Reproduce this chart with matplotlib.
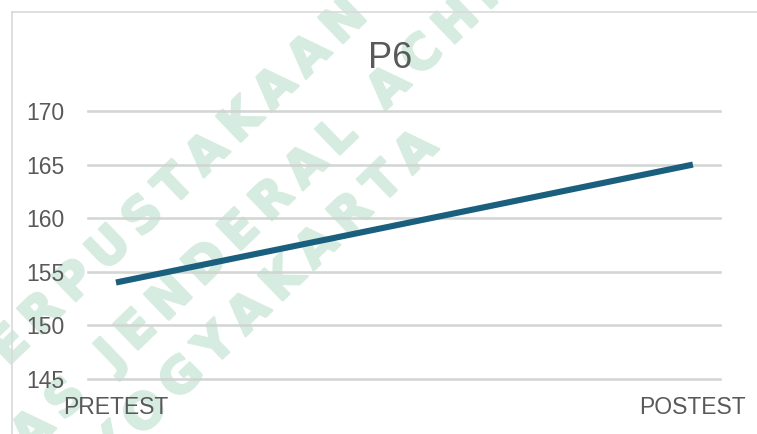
import math
import matplotlib
matplotlib.use("Agg")
import matplotlib.pyplot as plt
import matplotlib.font_manager as fm
import matplotlib.patheffects as pe
from matplotlib.lines import Line2D

# ---- data ----
categories = ["PRETEST", "POSTEST"]
values = [154, 165]
y_ticks = [145, 150, 155, 160, 165, 170]
title = "P6"
watermark_lines = ["PERPUSTAKAAN", "UNIVERSITAS JENDERAL ACHMAD YANI", "YOGYAKARTA"]

W, H = 757, 434
fig = plt.figure(figsize=(W / 100, H / 100), dpi=100)
fig.patch.set_facecolor("white")

names = {f.name for f in fm.fontManager.ttflist}
if "Liberation Sans Narrow" in names:
    FONT, TICK_FS, TITLE_FS = ["Liberation Sans Narrow", "DejaVu Sans"], 18, 27
else:
    FONT, TICK_FS, TITLE_FS = ["Liberation Sans", "DejaVu Sans"], 16.5, 26
TXT = "#595959"

# chart border (left + top visible)
fig.add_artist(Line2D([11.5 / W, 11.5 / W], [0, 1 - 12 / H], color="#d9d9d9", lw=1.2,
                      transform=fig.transFigure))
fig.add_artist(Line2D([11.5 / W, 1], [1 - 12 / H, 1 - 12 / H], color="#d9d9d9", lw=1.2,
                      transform=fig.transFigure))

left, right = 88 / W, 720 / W
bottom, top = 1 - 379 / H, 1 - 111 / H
ax = fig.add_axes([left, bottom, right - left, top - bottom])
ax.set_facecolor("none")

x = list(range(len(categories)))
ax.plot(x, values, color="#1a5f7e", lw=4.4, solid_capstyle="butt", zorder=3)

ax.set_ylim(y_ticks[0], y_ticks[-1])
ax.set_yticks(y_ticks)
ax.set_xlim(-0.0485, 1.047)
ax.set_xticks(x)
ax.set_xticklabels(categories)
ax.yaxis.grid(True, color="#cfd3d0", lw=1.9, alpha=0.9)
for gl in ax.get_ygridlines():
    gl.set_clip_on(False)
ax.set_axisbelow(True)
for s in ax.spines.values():
    s.set_visible(False)
ax.tick_params(axis="both", length=0, colors=TXT, labelsize=TICK_FS)
ax.tick_params(axis="y", pad=17)
ax.tick_params(axis="x", pad=12)
for lab in ax.get_xticklabels() + ax.get_yticklabels():
    lab.set_family(FONT)
    lab.set_color(TXT)

fig.text(390 / W, 1 - 68 / H, title, ha="center", va="baseline", fontsize=TITLE_FS,
         color=TXT, family=FONT)

# ---- watermark (faint diagonal text, behind the chart) ----
renderer = fig.canvas.get_renderer()
SP = "\u2009"
ANG = 44
WM_COLOR = "#d6ece0"
wm_props = dict(fontsize=35, fontweight="bold", family=["DejaVu Sans"])


def text_w(s):
    t = fig.text(0, 0, s, **wm_props)
    w = t.get_window_extent(renderer).width
    t.remove()
    return w


# (line, key letter index, key letter centre in image px)
anchors = [(0, 1, (10, 345)), (1, 12, (112, 355)), (2, 2, (182, 378))]
for li, kidx, (cx, cy) in anchors:
    s = SP.join(watermark_lines[li])
    k = kidx * 2  # position in spaced string
    key = s[k]
    w_pre = text_w(s[:k] + key) - text_w(key)
    along = w_pre + text_w(key) / 2
    a = math.radians(ANG)
    sx = cx - along * math.cos(a)
    sy_disp = (H - cy) - along * math.sin(a)
    fig.text(sx / W, sy_disp / H, s, ha="left", va="center", rotation=ANG,
             rotation_mode="anchor", color=WM_COLOR, zorder=-1,
             path_effects=[pe.withStroke(linewidth=1.8, foreground=WM_COLOR)],
             **wm_props)

fig.savefig("out.png", dpi=100, facecolor="white")
